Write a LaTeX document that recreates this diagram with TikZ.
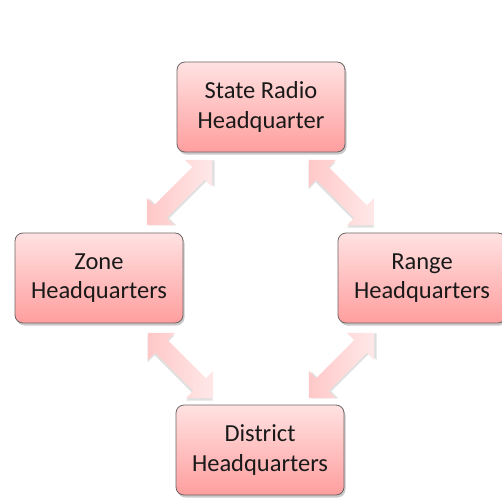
\documentclass[tikz,border=0pt]{standalone}
\usepackage{fontspec}
\setmainfont{Carlito}
\usetikzlibrary{shadows}
\definecolor{boxtop}{RGB}{255,226,226}
\definecolor{boxbot}{RGB}{255,158,158}
\definecolor{boxline}{RGB}{110,100,100}
\definecolor{arrA}{RGB}{255,200,200}
\definecolor{arrB}{RGB}{255,232,232}
\definecolor{txt}{RGB}{25,25,25}
\tikzset{
  hqbox/.style={rectangle, rounded corners=8pt, draw=boxline, line width=0.8pt,
    top color=boxtop, bottom color=boxbot, minimum width=168pt, minimum height=90pt,
    align=center, text=txt, font=\fontsize{24.5}{29.5}\selectfont,
    drop shadow={shadow xshift=1.5pt, shadow yshift=-2.5pt, opacity=0.35, fill=black!60}},
  fatarrow/.style={left color=arrA, right color=arrB, draw=none},
  arrshadow/.style={fill=black, opacity=0.12},
  pics/dblarrow/.style={code={
    \path[arrshadow, shift={(1.5,2)}] (-46,0) -- (-27,19) -- (-27,9) -- (27,9) -- (27,19) -- (46,0)
      -- (27,-19) -- (27,-9) -- (-27,-9) -- (-27,-19) -- cycle;
    \path[fatarrow] (-46,0) -- (-27,19) -- (-27,9) -- (27,9) -- (27,19) -- (46,0)
      -- (27,-19) -- (27,-9) -- (-27,-9) -- (-27,-19) -- cycle;
  }}
}
\begin{document}
\begin{tikzpicture}[x=1pt,y=-1pt]
\useasboundingbox (0,0) rectangle (502,497);
\begin{scope}
\clip (0,0) rectangle (502,497);
\pic[rotate=45] (a1) at (179.5,192.5) {dblarrow};
\pic[rotate=-45] (a2) at (341.5,192.5) {dblarrow};
\pic[rotate=-45] (a3) at (180.5,365.5) {dblarrow};
\pic[rotate=45] (a4) at (341.5,365.5) {dblarrow};
\node[hqbox] (state) at (261,107) {State Radio\\Headquarter};
\node[hqbox] (zone) at (99,278) {Zone\\Headquarters};
\node[hqbox] (range) at (422,278) {Range\\Headquarters};
\node[hqbox] (district) at (260,450) {District\\Headquarters};
\end{scope}
\end{tikzpicture}
\end{document}
